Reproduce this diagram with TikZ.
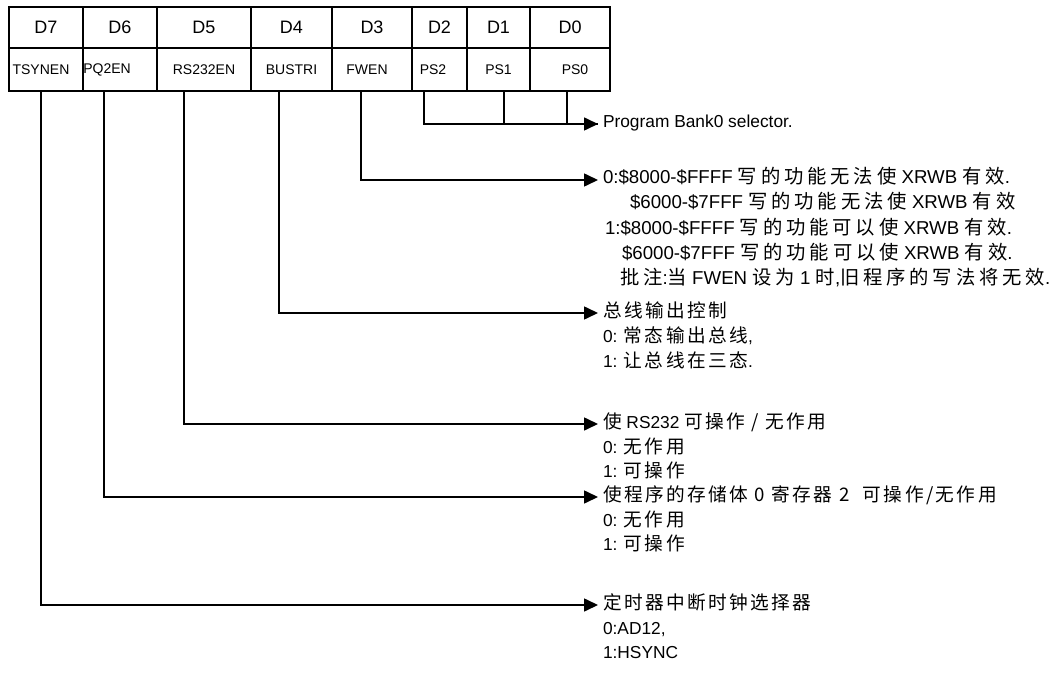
\documentclass[tikz,border=0pt]{standalone}
\usepackage{fontspec}
\setmainfont{Liberation Sans}
\newfontfamily\cjk[LetterSpace=13]{Noto Sans CJK SC}
\newfontfamily\cjkwide[LetterSpace=20]{Noto Sans CJK SC}
\newcommand{\zh}[1]{{\cjk\fontsize{14pt}{16pt}\selectfont #1}}
\newcommand{\zhw}[1]{{\cjkwide\fontsize{14.5pt}{16pt}\selectfont #1}}
\usetikzlibrary{arrows.meta,positioning}

\tikzset{
  cell/.style={draw, line width=1.5pt, inner sep=0pt, outer sep=0pt},
  hd/.style={cell, minimum height=30.75pt, font=\fontsize{13.5}{15}\selectfont},
  bit/.style={cell, minimum height=32.25pt, font=\fontsize{10.5}{12}\selectfont},
  conn/.style={line width=1.2pt},
  arr/.style={conn, -{Triangle[length=10.5pt,width=9.75pt]}},
  desc/.style={anchor=west, inner sep=0pt, inner xsep=3.75pt, outer sep=0pt,
    text height=9pt, text depth=3pt, font=\fontsize{13}{15}\selectfont},
  descw/.style={desc, font=\fontsize{14}{16}\selectfont},
}

\begin{document}
\begin{tikzpicture}[x=0.75pt,y=-0.75pt]
  \useasboundingbox (0,0) rectangle (1052,677);
  %
  \node[hd, minimum width=55.5pt] (d7) at (46,27.5) {D7};
  \node[hd, minimum width=55.5pt] (d6) at (120,27.5) {D6};
  \node[hd, minimum width=70.5pt] (d5) at (204,27.5) {D5};
  \node[hd, minimum width=60.75pt] (d4) at (291.5,27.5) {D4};
  \node[hd, minimum width=60pt] (d3) at (372,27.5) {D3};
  \node[hd, minimum width=41.25pt] (d2) at (439.5,27.5) {D2};
  \node[hd, minimum width=47.25pt] (d1) at (498.5,27.5) {D1};
  \node[hd, minimum width=60pt] (d0) at (570,27.5) {D0};
  %
  \node[bit, minimum width=55.5pt, below=0pt of d7] (tsynen) {TSYNEN\hspace*{7.5pt}};
  \node[bit, minimum width=55.5pt, below=0pt of d6] (pq2en) {PQ2EN\hspace*{19.5pt}};
  \node[bit, minimum width=70.5pt, below=0pt of d5] (rs232en) {RS232EN};
  \node[bit, minimum width=60.75pt, below=0pt of d4] (bustri) {BUSTRI};
  \node[bit, minimum width=60pt, below=0pt of d3] (fwen) {FWEN\hspace*{7.5pt}};
  \node[bit, minimum width=41.25pt, below=0pt of d2] (ps2) {PS2\hspace*{9.75pt}};
  \node[bit, minimum width=47.25pt, below=0pt of d1] (ps1) {PS1};
  \node[bit, minimum width=60pt, below=0pt of d0] (ps0) {\hspace*{7.5pt}PS0};
  %
  \node[desc] (pb) at (598,124) {Program Bank0 selector.};
  %
  \node[descw] (fw0) at (598,180) {0:\$8000-\$FFFF \zhw{写的功能无法使} XRWB \zhw{有效}.};
  \node[descw] (fw1) at (625,205) {\$6000-\$7FFF \zhw{写的功能无法使} XRWB \zhw{有效}};
  \node[descw] (fw2) at (600,230) {1:\$8000-\$FFFF \zhw{写的功能可以使} XRWB \zhw{有效}.};
  \node[descw] (fw3) at (617,255) {\$6000-\$7FFF \zhw{写的功能可以使} XRWB \zhw{有效}.};
  \node[descw] (fw4) at (615,280) {\zhw{批注}:\zhw{当} FWEN \zhw{设为} 1 \zhw{时},\zhw{旧程序的写法将无效}.};
  %
  \node[desc] (bt0) at (598,313) {\zh{总线输出控制}};
  \node[desc] (bt1) at (598,338) {0: \zh{常态输出总线},};
  \node[desc] (bt2) at (598,363) {1: \zh{让总线在三态}.};
  %
  \node[desc] (rs0) at (598,424) {\zh{使} RS232 \zh{可操作 / 无作用}};
  \node[desc] (rs1) at (598,449) {0: \zh{无作用}};
  \node[desc] (rs2) at (598,473) {1: \zh{可操作}};
  %
  \node[desc] (pq0) at (598,497) {\zh{使程序的存储体 0 寄存器 2~~可操作/无作用}};
  \node[desc] (pq1) at (598,522) {0: \zh{无作用}};
  \node[desc] (pq2) at (598,546) {1: \zh{可操作}};
  %
  \node[desc] (ts0) at (598,605) {\zh{定时器中断时钟选择器}};
  \node[desc] (ts1) at (598,630) {0:AD12,};
  \node[desc] (ts2) at (598,654) {1:HSYNC};
  %
  \draw[conn] ([xshift=4.1pt]ps1.south) |- (pb.west);
  \draw[conn] ([xshift=-2.25pt]ps0.south) |- (pb.west);
  \draw[arr] ([xshift=-11.6pt]ps2.south) |- (pb.west);
  \draw[arr] ([xshift=-8.25pt]fwen.south) |- (fw0.west);
  \draw[arr] ([xshift=-9.4pt]bustri.south) |- (bt0.west);
  \draw[arr] ([xshift=-15pt]rs232en.south) |- (rs0.west);
  \draw[arr] ([xshift=-12pt]pq2en.south) |- (pq0.west);
  \draw[arr] ([xshift=-3.75pt]tsynen.south) |- (ts0.west);
  %
\end{tikzpicture}
\end{document}
